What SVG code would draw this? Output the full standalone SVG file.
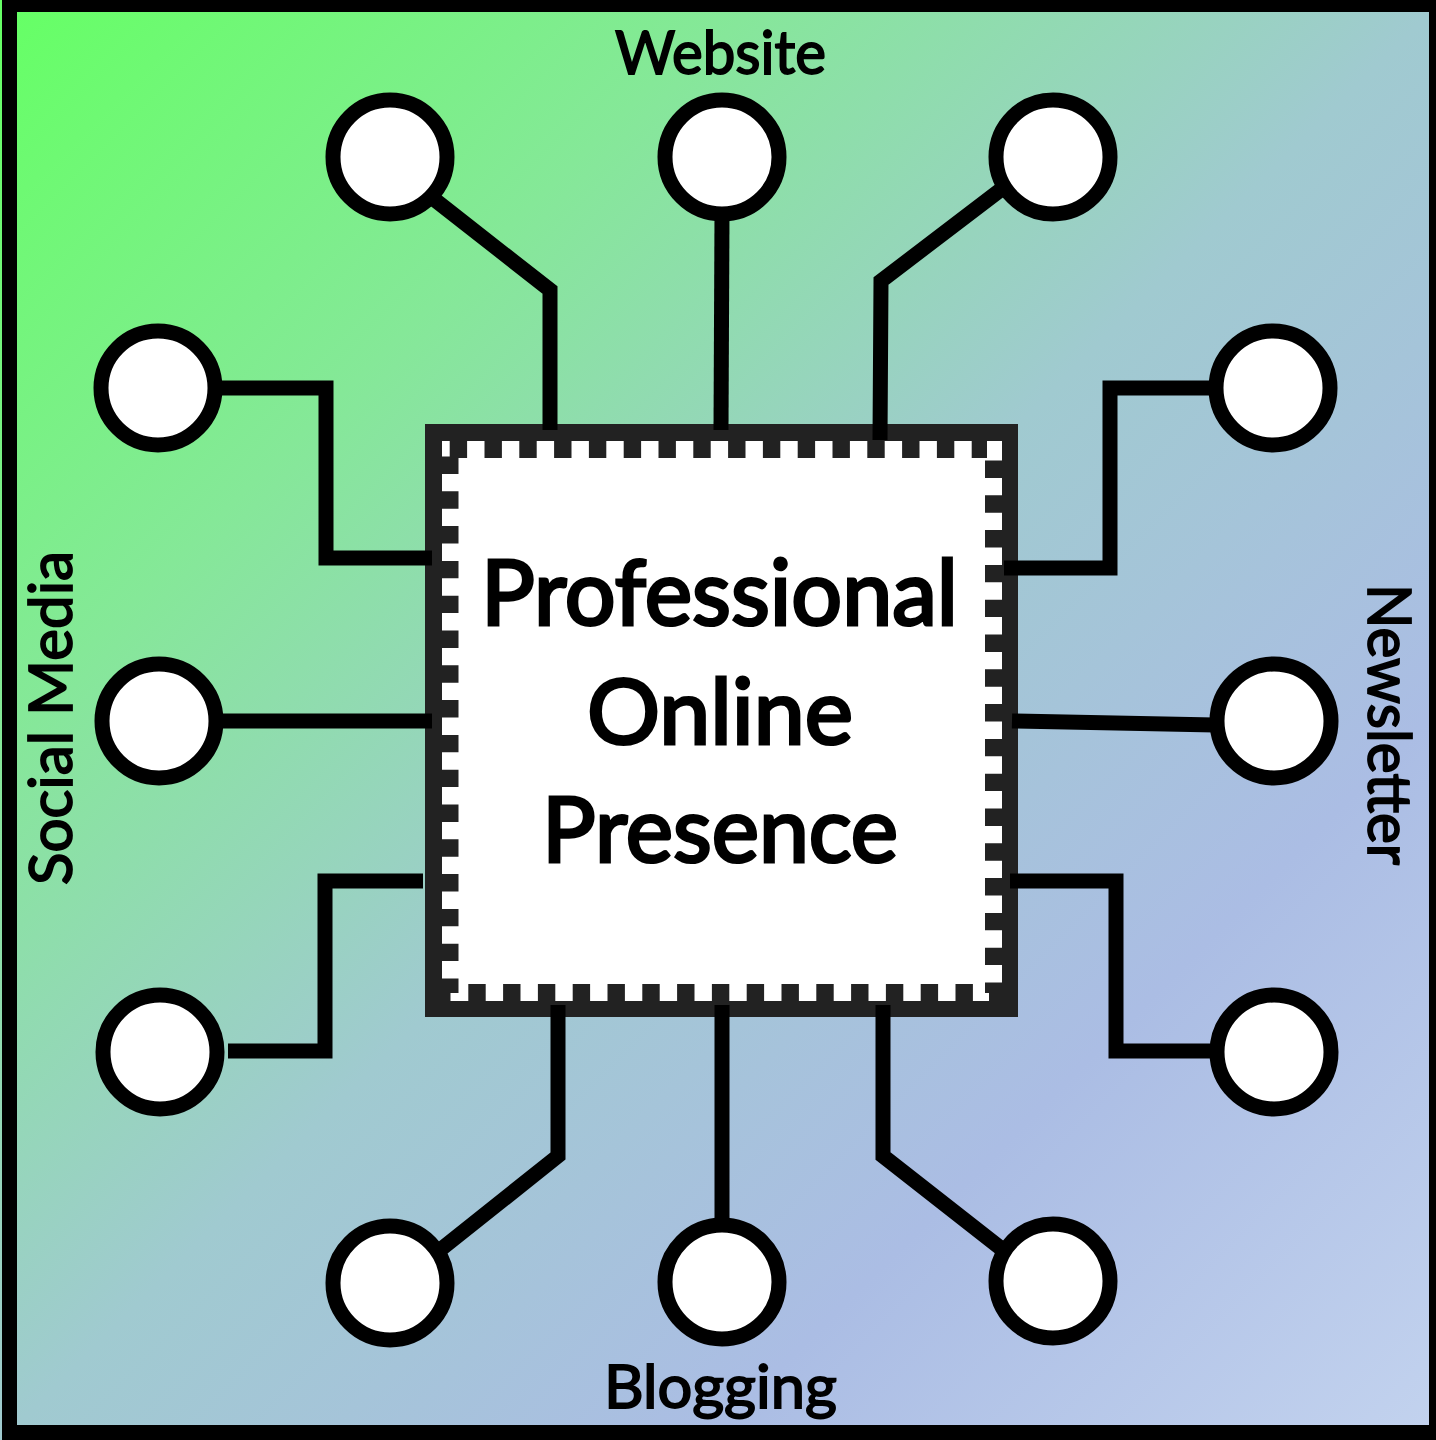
<svg xmlns="http://www.w3.org/2000/svg" width="1436" height="1440" viewBox="0 0 1436 1440">
<style>
.wire{fill:none;stroke:#000;stroke-width:15;stroke-linejoin:miter}
.port{fill:#fff;stroke:#000;stroke-width:15}
.teeth{fill:none;stroke:#222;stroke-width:17;stroke-dasharray:17.4 17.4}
text{font-family:"Lato","Liberation Sans",sans-serif;fill:#000;stroke:#000;text-anchor:start}
.big{font-size:92px;stroke-width:3.2}
.small{font-size:60px;stroke-width:1.8}
</style>
<defs>
<linearGradient id="bg" gradientUnits="userSpaceOnUse" x1="17" y1="12" x2="1429" y2="1425">
<stop offset="0" stop-color="#66ff66"/>
<stop offset=".25" stop-color="#85e898"/>
<stop offset=".5" stop-color="#a0cad0"/>
<stop offset=".75" stop-color="#abbde4"/>
<stop offset="1" stop-color="#c2d2ee"/>
</linearGradient>
</defs>
<rect id="background" width="1436" height="1440" fill="url(#bg)"/>
<path id="frame" fill="#000" d="M2 0H1436V1440H2ZM17 12V1425H1429V12Z" fill-rule="evenodd"/>
<g id="center-node">
<rect x="425" y="424" width="593" height="593" fill="#222"/>
<rect x="442" y="441" width="560" height="560" fill="#fff"/>
<path class="teeth" d="M449.7 449.5H987"/>
<path class="teeth" d="M450 456.5V993"/>
<path class="teeth" d="M468.3 992.5H989"/>
<path class="teeth" d="M993.5 460.5V993"/>
<rect x="442" y="993" width="8.5" height="8" fill="#222"/>
<rect x="989" y="993" width="13" height="8" fill="#222"/>
<text class="big" x="481" y="625" textLength="477" lengthAdjust="spacingAndGlyphs">Professional</text>
<text class="big" x="587" y="744" textLength="266" lengthAdjust="spacingAndGlyphs">Online</text>
<text class="big" x="542" y="862" textLength="356" lengthAdjust="spacingAndGlyphs">Presence</text>
</g>
<g id="connectors">
<path class="wire" d="M430 196L550 290V430"/>
<path class="wire" d="M722 215L721 430"/>
<path class="wire" d="M1003 188L881 281L880 440"/>
<path class="wire" d="M215 388H326V558H432"/>
<path class="wire" d="M218 721H432"/>
<path class="wire" d="M228 1051H325V881H423"/>
<path class="wire" d="M1215 388H1110V568H1004"/>
<path class="wire" d="M1012 721L1215 725"/>
<path class="wire" d="M1010 881H1116V1051H1215"/>
<path class="wire" d="M558 1005V1156L440 1250"/>
<path class="wire" d="M722 1005V1225"/>
<path class="wire" d="M883 1005V1156L1003 1250"/>
</g>
<g id="node-top-1"><circle class="port" cx="390" cy="157" r="57"/></g>
<g id="node-top-2"><circle class="port" cx="722" cy="157" r="57"/></g>
<g id="node-top-3"><circle class="port" cx="1053" cy="157" r="57"/></g>
<g id="node-left-1"><circle class="port" cx="158" cy="388" r="57"/></g>
<g id="node-left-2"><circle class="port" cx="159" cy="721" r="57"/></g>
<g id="node-left-3"><circle class="port" cx="160" cy="1052" r="57"/></g>
<g id="node-right-1"><circle class="port" cx="1273" cy="388" r="57"/></g>
<g id="node-right-2"><circle class="port" cx="1274" cy="721" r="57"/></g>
<g id="node-right-3"><circle class="port" cx="1274" cy="1052" r="57"/></g>
<g id="node-bottom-1"><circle class="port" cx="390" cy="1283" r="57"/></g>
<g id="node-bottom-2"><circle class="port" cx="722" cy="1282" r="57"/></g>
<g id="node-bottom-3"><circle class="port" cx="1053" cy="1281" r="57"/></g>
<g id="labels">
<text class="small" x="615" y="74" textLength="211" lengthAdjust="spacingAndGlyphs">Website</text>
<text class="small" x="604" y="1408" textLength="233" lengthAdjust="spacingAndGlyphs">Blogging</text>
<text class="small" transform="translate(72 885) rotate(-90)" textLength="334" lengthAdjust="spacingAndGlyphs">Social Media</text>
<text class="small" transform="translate(1368 584) rotate(90)" textLength="281" lengthAdjust="spacingAndGlyphs">Newsletter</text>
</g>
</svg>
